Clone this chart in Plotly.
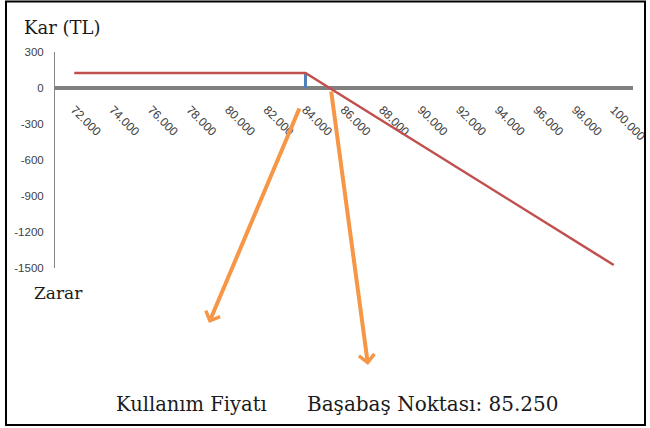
import plotly.graph_objects as go

# Data
prices = [72000, 84000, 100000]
profit = [125, 125, -1475]
strike_x = [84000, 84000]
strike_y = [0, 125]
tick_vals = [72000, 74000, 76000, 78000, 80000, 82000, 84000, 86000,
             88000, 90000, 92000, 94000, 96000, 98000, 100000]
tick_text = ["72.000", "74.000", "76.000", "78.000", "80.000", "82.000", "84.000",
             "86.000", "88.000", "90.000", "92.000", "94.000", "96.000", "98.000", "100.000"]
y_ticks = [300, 0, -300, -600, -900, -1200, -1500]

W, H = 650, 428
L, R, T, B = 55, 17, 52, 160
PW, PH = W - L - R, H - T - B


def px(x):
    return (x - L) / PW


def py(y):
    return (H - B - y) / PH


fig = go.Figure()
fig.add_trace(go.Scatter(x=strike_x, y=strike_y, mode="lines",
                         line=dict(color="#4F81BD", width=3), showlegend=False,
                         hoverinfo="skip"))
fig.add_trace(go.Scatter(x=prices, y=profit, mode="lines",
                         line=dict(color="#C0504D", width=2.5), showlegend=False,
                         hoverinfo="skip"))

fig.update_layout(
    width=W, height=H,
    margin=dict(l=L, r=R, t=T, b=B, autoexpand=False),
    paper_bgcolor="white", plot_bgcolor="white",
    showlegend=False,
    xaxis=dict(range=[71000, 101000], anchor="free", position=1500 / 1800,
               automargin=False,
               showline=True, linecolor="#808080", linewidth=4,
               showgrid=False, zeroline=False, layer="below traces",
               tickmode="array", tickvals=tick_vals, ticktext=tick_text,
               tickangle=45, ticks="outside", ticklen=8, tickcolor="rgba(0,0,0,0)",
               tickfont=dict(family="Liberation Sans", size=12, color="#404040")),
    yaxis=dict(range=[-1500, 300], automargin=False,
               showline=True, linecolor="#868686", linewidth=1,
               showgrid=False, zeroline=False,
               tickmode="array", tickvals=y_ticks, ticktext=[str(v) for v in y_ticks],
               ticks="outside", ticklen=8, tickcolor="rgba(0,0,0,0)",
               tickfont=dict(family="Liberation Sans", size=11.5, color="#404040")),
)

serif = "DejaVu Serif"
texts = [
    ("Kar (TL)", 22, 28, 18),
    ("Zarar", 32, 293, 17),
    ("Kullanım Fiyatı", 114, 404, 19.5),
    ("Başabaş Noktası: 85.250", 305, 404, 20),
]
for t, x, y, s in texts:
    fig.add_annotation(text=t, xref="paper", yref="paper", x=px(x), y=py(y),
                       xanchor="left", yanchor="middle", showarrow=False,
                       font=dict(family=serif, size=s, color="#1a1a1a"))

arrows = [((300, 107), (209, 323)), ((331, 90), (368, 365))]
for (tx, ty), (hx, hy) in arrows:
    fig.add_annotation(text="", xref="paper", yref="paper", x=px(hx), y=py(hy),
                       axref="pixel", ayref="pixel", ax=tx - hx, ay=ty - hy,
                       showarrow=True, arrowhead=4, arrowsize=0.75, arrowwidth=4,
                       arrowcolor="#F79646", standoff=0, startstandoff=0)

fig.add_shape(type="rect", xref="paper", yref="paper",
              x0=px(6), x1=px(645), y0=py(425), y1=py(1.5),
              line=dict(color="black", width=2), fillcolor="rgba(0,0,0,0)")

fig.write_html("out.html", config={"displayModeBar": False},
               post_script="document.body.style.margin='0';document.body.style.overflow='hidden';")
